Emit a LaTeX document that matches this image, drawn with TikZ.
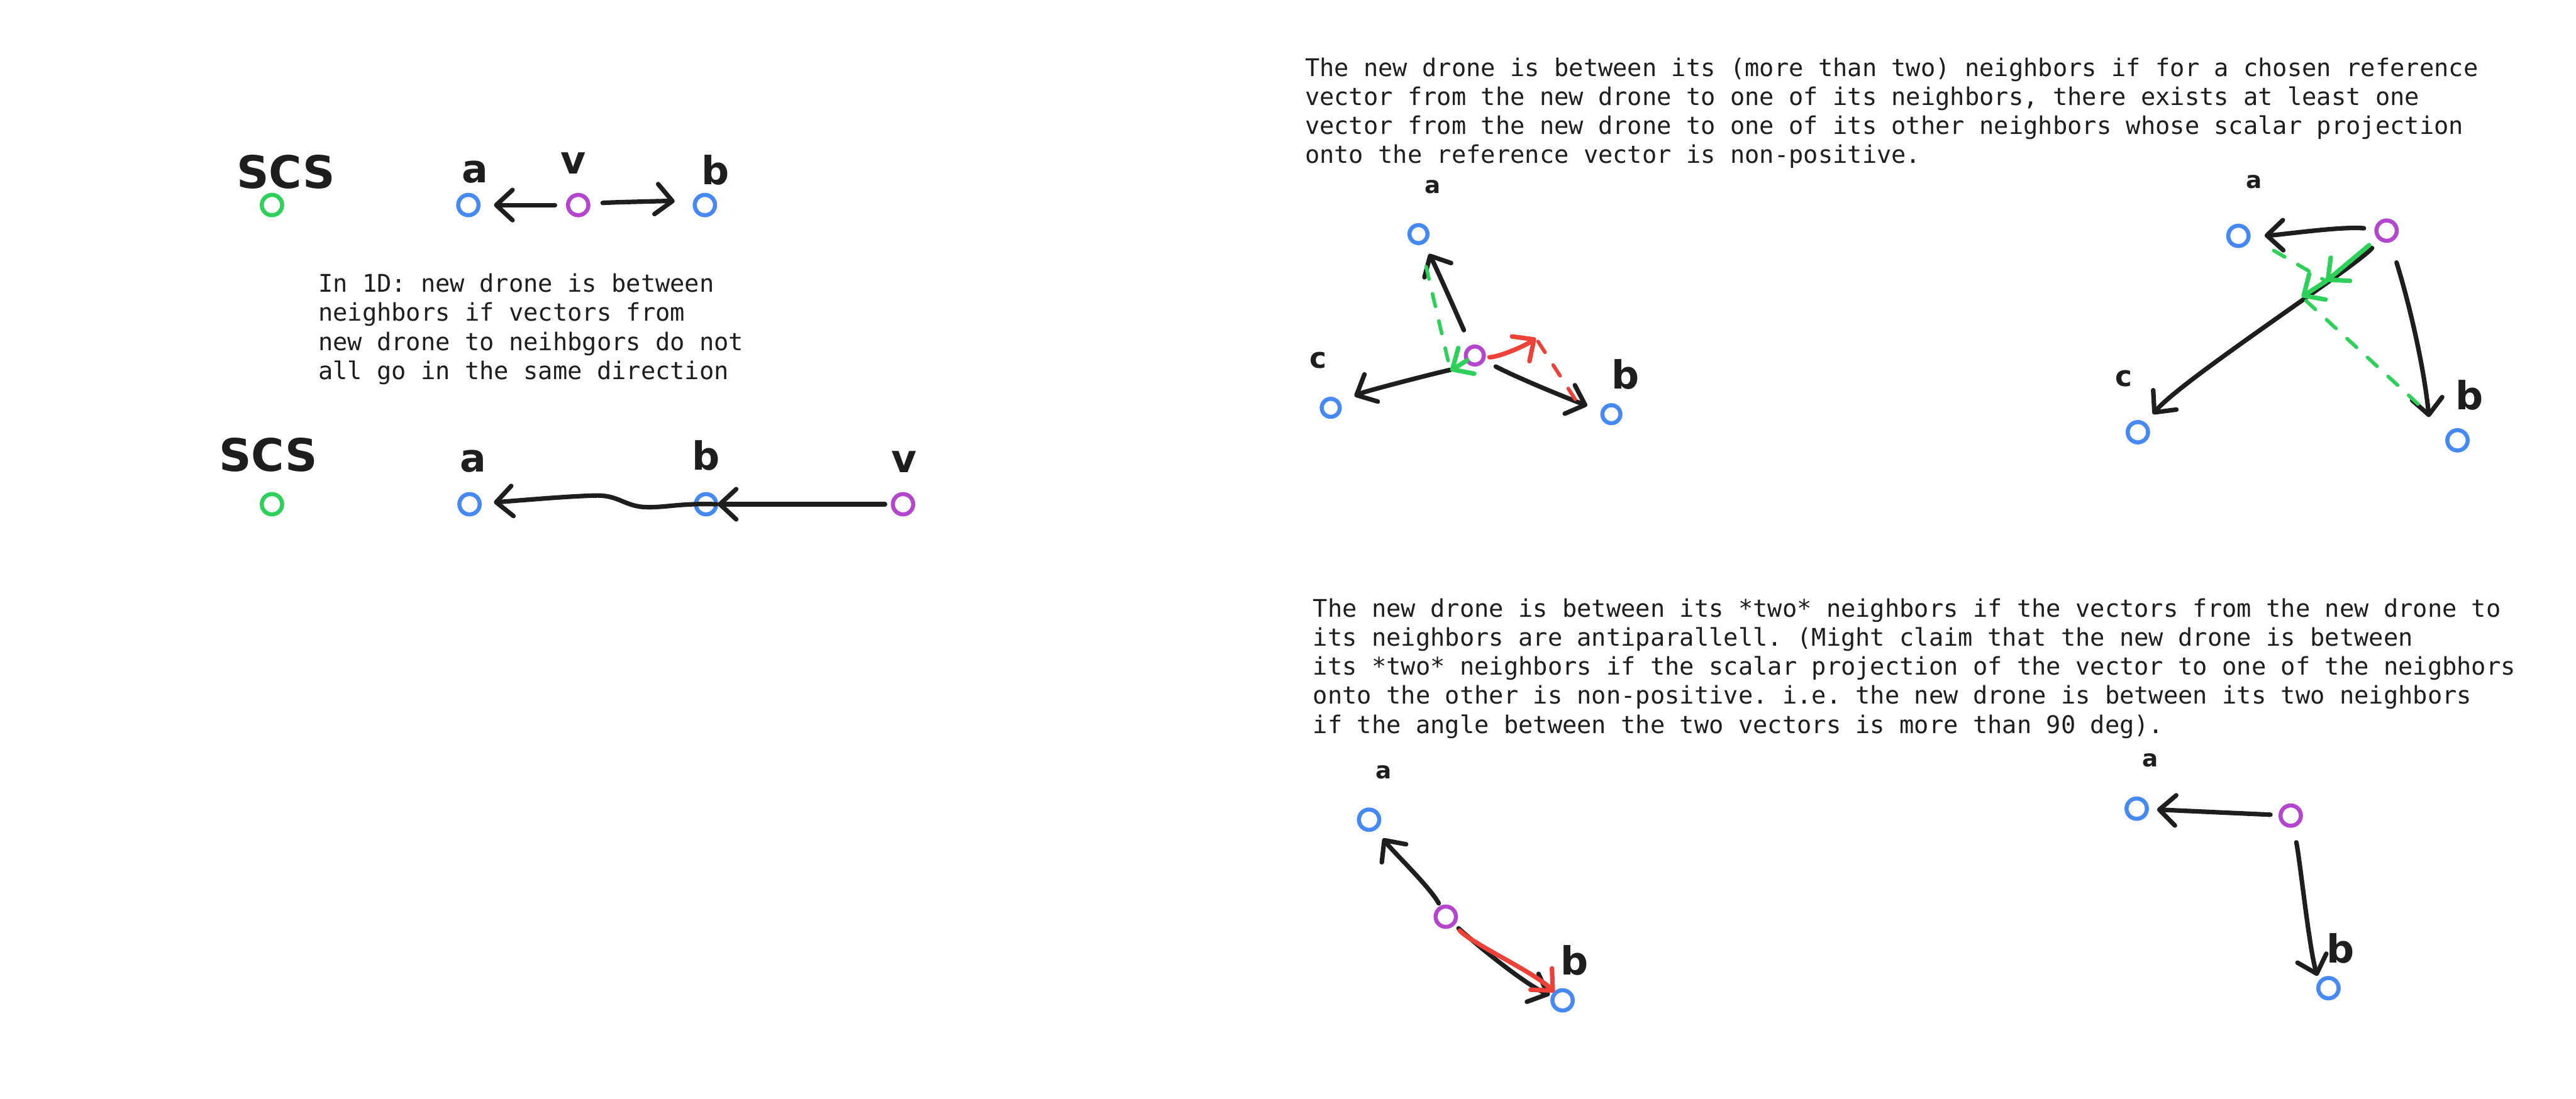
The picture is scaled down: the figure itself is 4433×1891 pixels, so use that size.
\documentclass[tikz,border=0pt]{standalone}
\usepackage{fontspec}
\setmonofont{DejaVu Sans Mono}
\newfontfamily\handfont{DejaVu Sans}
\usetikzlibrary{arrows.meta}
\definecolor{ink}{HTML}{1E1E1E}
\definecolor{dblue}{HTML}{4688F4}
\definecolor{dpurple}{HTML}{B446CE}
\definecolor{dgreen}{HTML}{2DD15A}
\definecolor{dred}{HTML}{EE4137}
\begin{document}
\begin{tikzpicture}[x=0.01cm,y=-0.01cm,
  ring/.style={circle,draw,line width=0.07cm,inner sep=0pt,outer sep=0pt,minimum size=0.35cm},
  sring/.style={ring,minimum size=0.31cm},
  nb/.style={draw=dblue},
  nv/.style={draw=dpurple},
  ns/.style={draw=dgreen},
  inkline/.style={line width=0.078cm,line cap=round,line join=round},
  tipshape/.style={-{Straight Barb[round,length=0.28cm,width=0.52cm]}},
  arr/.style={inkline,draw=ink,tipshape},
  garr/.style={inkline,draw=dgreen,tipshape},
  rarr/.style={inkline,draw=dred,tipshape},
  gdashed/.style={line width=0.062cm,line cap=round,draw=dgreen,dash pattern=on 0.22cm off 0.26cm},
  rdashed/.style={gdashed,draw=dred},
  txt/.style={font=\ttfamily\fontsize{11.92}{14.22}\selectfont,align=left,inner sep=0pt,text=ink},
  lbl/.style={font=\handfont\bfseries\fontsize{19}{19}\selectfont,inner sep=0pt,text=ink},
  lblscs/.style={lbl,font=\handfont\bfseries\fontsize{22}{22}\selectfont},
  lbla/.style={lbl,font=\handfont\bfseries\fontsize{11.5}{11.5}\selectfont},
  lblc/.style={lbl,font=\handfont\bfseries\fontsize{14}{14}\selectfont},
  lblb/.style={lbl,font=\handfont\bfseries\fontsize{19}{19}\selectfont},
]
\fill[white] (0,0) rectangle (4433,1891);
\useasboundingbox (0,0) rectangle (4433,1891);

% ---------- row 1 ----------
\node[ring,ns] (g1) at (468,353) {};
\node[ring,nb] (a1) at (806,353) {};
\node[ring,nv] (v1) at (995,353) {};
\node[ring,nb] (b1) at (1213,353) {};
\node[lblscs] (ls1) at (492,296) {SCS};
\node[lbl] (la1) at (817,296) {a};
\node[lbl] (lv1) at (987,281) {v};
\node[lbl] (lb1) at (1231,293) {b};
\draw[arr,shorten <=0.225cm,shorten >=0.265cm] (v1) -- (a1);
\draw[arr,shorten <=0.247cm,shorten >=0.348cm] (v1) .. controls (1052,348) and (1156,346) .. (b1);

\node[txt,anchor=base west] (t1) at (547,653) {In 1D: new drone is between\\neighbors if vectors from\\new drone to neihbgors do not\\all go in the same direction};

% ---------- row 2 ----------
\node[ring,ns] (g2) at (468,868) {};
\node[ring,nb] (a2) at (808,868) {};
\node[ring,nb] (b2) at (1215,868) {};
\node[ring,nv] (v2) at (1554,868) {};
\node[lblscs] (ls2) at (462,783) {SCS};
\node[lbl] (la2) at (814,794) {a};
\node[lbl] (lb2) at (1215,784) {b};
\node[lbl] (lv2) at (1556,795) {v};
\draw[arr,shorten <=0.135cm,shorten >=0.025cm] (v2) -- (b2);
\draw[arr,shorten >=0.245cm] (b2.east) .. controls (1170,866) and (1145,874) .. (1112,873)
  .. controls (1075,872) and (1065,852) .. (1025,853) .. controls (980,854) and (900,861) .. (a2);

% ---------- text top right ----------
\node[txt,anchor=base west] (t2) at (2245,281) {The new drone is between its (more than two) neighbors if for a chosen reference\\vector from the new drone to one of its neighbors, there exists at least one\\vector from the new drone to one of its other neighbors whose scalar projection\\onto the reference vector is non-positive.};

% ---------- panel 1 ----------
\node[sring,nb] (a3) at (2441,403) {};
\node[sring,nv] (v3) at (2538,612) {};
\node[sring,nb] (c3) at (2290,702) {};
\node[sring,nb] (b3) at (2773,713) {};
\node[lbla] (la3) at (2466,322) {a};
\node[lblc] (lc3) at (2268,620) {c};
\node[lblb] (lb3) at (2797,644) {b};
\coordinate (p3) at (2496,638);
\coordinate (r3) at (2643,582);
\coordinate (q3) at (2720,702);
\draw[arr,shorten <=0.32cm,shorten >=0.23cm] (v3) .. controls (2522,575) and (2472,461) .. (a3);
\draw[arr,shorten <=0.334cm,shorten >=0.30cm] (v3) .. controls (2499,635) and (2349,673) .. (c3);
\draw[arr,shorten <=0.252cm,shorten >=0.285cm] (v3) .. controls (2614,652) and (2711,691) .. (b3);
\draw[gdashed,shorten <=0.42cm,shorten >=0.1cm] (a3) -- (p3);
\draw[garr] (v3) -- (p3);
\draw[rarr,shorten <=0.097cm] (v3) .. controls (2573,616) and (2619,599) .. (r3);
\draw[rdashed,shorten <=0.07cm] (r3) -- (q3);

% ---------- panel 2 ----------
\node[ring,nb] (a4) at (3852,406) {};
\node[ring,nv] (v4) at (4107,397) {};
\node[ring,nb] (c4) at (3679,744) {};
\node[ring,nb] (b4) at (4229,758) {};
\node[lbla] (la4) at (3879,313) {a};
\node[lblc] (lc4) at (3655,652) {c};
\node[lblb] (lb4) at (4250,680) {b};
\coordinate (f1) at (4003,484);
\coordinate (f2) at (3961,511);
\coordinate (t4) at (4180,718);
\draw[arr,shorten <=0.217cm,shorten >=0.275cm] (v4) .. controls (4030,389) and (3920,405) .. (a4);
\draw[arr,shorten <=0.215cm,shorten >=0.23cm] (v4) .. controls (4057,457) and (3754,654) .. (c4);
\draw[arr,shorten <=0.40cm] (v4) .. controls (4142,509) and (4170,620) .. (t4);
\draw[garr,shorten <=0.215cm] (v4) -- (f1);
\draw[garr] (f1) -- (f2);
\draw[gdashed,shorten <=0.5cm] (a4.east) -- (f1);
\draw[gdashed,shorten <=0.1cm,shorten >=0.665cm] (f2) -- (b4);

% ---------- text bottom right ----------
\node[txt,anchor=base west] (t3) at (2259,1262) {The new drone is between its *two* neighbors if the vectors from the new drone to\\its neighbors are antiparallell. (Might claim that the new drone is between\\its *two* neighbors if the scalar projection of the vector to one of the neigbhors\\onto the other is non-positive. i.e. the new drone is between its two neighbors\\if the angle between the two vectors is more than 90 deg).};

% ---------- panel 3 ----------
\node[ring,nb] (a5) at (2356,1411) {};
\node[ring,nv] (v5) at (2488,1578) {};
\node[ring,nb] (b5) at (2689,1722) {};
\node[lbla] (la5) at (2381,1329) {a};
\node[lblb] (lb5) at (2710,1653) {b};
\draw[arr,shorten <=0.084cm,shorten >=0.225cm] (v5) .. controls (2461,1527) and (2396,1465) .. (a5);
\draw[arr,shorten <=0.122cm,shorten >=0.063cm] (v5) .. controls (2545,1630) and (2627,1696) .. (b5);
\draw[rarr,shorten <=0.164cm,shorten >=0.025cm] (v5) .. controls (2536,1626) and (2641,1674) .. (b5);

% ---------- panel 4 ----------
\node[ring,nb] (a6) at (3677,1392) {};
\node[ring,nv] (v6) at (3942,1404) {};
\node[ring,nb] (b6) at (4007,1701) {};
\node[lbla] (la6) at (3700,1309) {a};
\node[lblb] (lb6) at (4028,1633) {b};
\draw[arr,shorten <=0.175cm,shorten >=0.175cm] (v6) -- (a6);
\draw[arr,shorten <=0.295cm,shorten >=0.13cm] (v6) .. controls (3958,1480) and (3974,1635) .. (b6.150);
\end{tikzpicture}
\end{document}
